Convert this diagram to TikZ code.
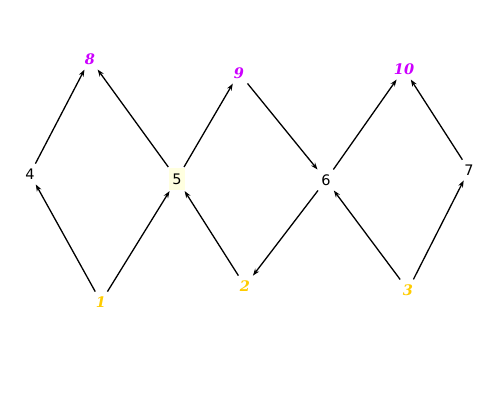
\documentclass[tikz,border=0pt]{standalone}
\usepackage{fontspec}
\setmainfont{DejaVu Sans}
\newfontfamily\serifbi{DejaVu Serif}
\usetikzlibrary{arrows.meta}
\definecolor{topc}{HTML}{CC00FF}
\definecolor{botc}{HTML}{FFCC00}
\definecolor{hl}{HTML}{FFFFE0}
\begin{document}
\begin{tikzpicture}[x=1pt,y=-1pt,
  plain/.style={font=\fontsize{14.5}{16}\selectfont, inner sep=4pt},
  topn/.style={font=\fontsize{14.5}{16}\selectfont\serifbi\bfseries\itshape, text=topc, inner sep=4pt},
  botn/.style={font=\fontsize{14.5}{16}\selectfont\serifbi\bfseries\itshape, text=botc, inner sep=4pt},
  hlbox/.style={fill=hl, inner sep=2pt, minimum width=16pt, minimum height=22pt},
  edge/.style={-{Stealth[length=7pt,width=5pt]}, line width=1.3pt, shorten >=1pt, shorten <=1pt}]
\useasboundingbox (0,0) rectangle (500,400);
\node[topn] (n8) at (90,59) {8};
\node[topn] (n9) at (239,73) {9};
\node[topn] (n10) at (404,69) {10};
\node[plain] (n4) at (30,174) {4};
\node[plain,hlbox] (n5) at (177,179) {5};
\node[plain] (n6) at (326,180) {6};
\node[plain] (n7) at (469,170) {7};
\node[botn] (n1) at (101,302) {1};
\node[botn] (n2) at (245,286) {2};
\node[botn] (n3) at (408,290) {3};
\draw[edge] (n1) -- (n4);
\draw[edge] (n1) -- (n5);
\draw[edge] (n4) -- (n8);
\draw[edge] (n5) -- (n8);
\draw[edge] (n5) -- (n9);
\draw[edge] (n9) -- (n6);
\draw[edge] (n6) -- (n10);
\draw[edge] (n6) -- (n2);
\draw[edge] (n2) -- (n5);
\draw[edge] (n3) -- (n6);
\draw[edge] (n3) -- (n7);
\draw[edge] (n7) -- (n10);
\end{tikzpicture}
\end{document}
